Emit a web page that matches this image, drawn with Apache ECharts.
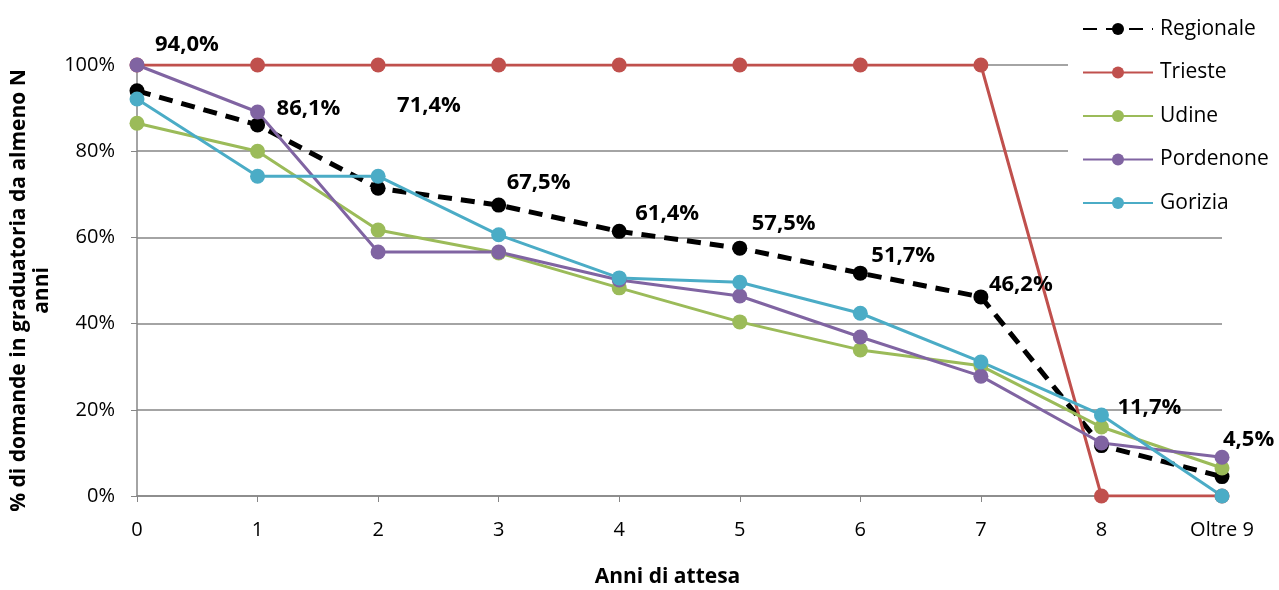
<!DOCTYPE html>
<html><head><meta charset="utf-8">
<script src="https://cdn.jsdelivr.net/npm/echarts@6/dist/echarts.min.js"></script>
<style>html,body{margin:0;padding:0;background:#fff}#c{width:1279px;height:590px}</style>
</head><body><div id="c"></div>
<script>
var categories = ['0','1','2','3','4','5','6','7','8','Oltre 9'];
var yTicks = [0,20,40,60,80,100];
var regionale = [94.0,86.1,71.4,67.5,61.4,57.5,51.7,46.2,11.7,4.5];
var trieste = [100,100,100,100,100,100,100,100,0,0];
var udine = [86.5,80.0,61.7,56.4,48.3,40.4,33.9,30.2,16.0,6.5];
var pordenone = [100,89.1,56.6,56.6,50.1,46.4,36.9,27.8,12.3,9.0];
var gorizia = [92.1,74.2,74.2,60.6,50.6,49.6,42.4,31.1,18.8,0];

// label placement (layout only)
var labelOffsets = [[18,-46],[19,-16],[19,-83],[8,-22],[16,-18],[12,-24],[11,-17],[8,-12],[16,-38],[1,-37]];

var font = "'Open Sans', 'Liberation Sans', sans-serif";
var chart = echarts.init(document.getElementById('c'), null, {renderer:'canvas'});

function colored(name, data, color){
  return {name:name, type:'line', data:data, symbol:'circle', symbolSize:15,
    lineStyle:{color:color, width:3}, itemStyle:{color:color}, emphasis:{disabled:true}};
}

var regData = regionale.map(function(v,i){
  return {value:v, label:{offset:labelOffsets[i]}};
});

chart.setOption({
  animation:false,
  backgroundColor:'#fff',
  grid:{left:137, right:57, top:65, bottom:94, outerBoundsMode:'none', containLabel:false},
  legend:{orient:'vertical', left:1068, top:12, padding:[5,10,8,14], backgroundColor:'#fff', z:10,
    itemGap:19.5, itemWidth:70, itemHeight:15,
    textStyle:{fontFamily:font, fontSize:21, lineHeight:24, color:'#000', padding:[0,0,0,2]},
    data:['Regionale','Trieste','Udine','Pordenone','Gorizia']},
  xAxis:{type:'category', data:categories, boundaryGap:false,
    name:'Anni di attesa', nameLocation:'middle', nameGap:71,
    nameTextStyle:{fontFamily:font, fontSize:21, fontWeight:'bold', color:'#000', padding:[0,24,0,0]},
    axisLine:{lineStyle:{color:'#868686', width:1.5}},
    axisTick:{show:true, length:6, lineStyle:{color:'#868686'}},
    axisLabel:{fontFamily:font, fontSize:20, color:'#000', margin:24},
    splitLine:{show:false}},
  yAxis:{type:'value', min:0, max:100, interval:20,
    name:'% di domande in graduatoria da almeno N\nanni', nameLocation:'middle', nameGap:74,
    nameTextStyle:{fontFamily:font, fontSize:21, fontWeight:'bold', color:'#000', lineHeight:23, padding:[0,20,0,0]},
    axisLine:{show:true, lineStyle:{color:'#868686', width:1.5}},
    axisTick:{show:true, length:6, lineStyle:{color:'#868686'}},
    axisLabel:{fontFamily:font, fontSize:20, color:'#000', margin:22,
      formatter:function(v){return v+'%';}},
    splitLine:{lineStyle:{color:'#868686', width:1.5}}},
  series:[
    {name:'Regionale', type:'line', data:regData, symbol:'circle', symbolSize:15,
      lineStyle:{color:'#000', width:5, type:[14,9]}, itemStyle:{color:'#000'},
      emphasis:{disabled:true},
      label:{show:true, position:'inside', align:'left', verticalAlign:'middle',
        fontFamily:font, fontSize:22, fontWeight:'bold', color:'#000',
        formatter:function(p){return p.value.toFixed(1).replace('.',',')+'%';}}},
    colored('Trieste', trieste, '#C0504D'),
    colored('Udine', udine, '#9BBB59'),
    colored('Pordenone', pordenone, '#8064A2'),
    colored('Gorizia', gorizia, '#4BACC6')
  ]
});
</script></body></html>
